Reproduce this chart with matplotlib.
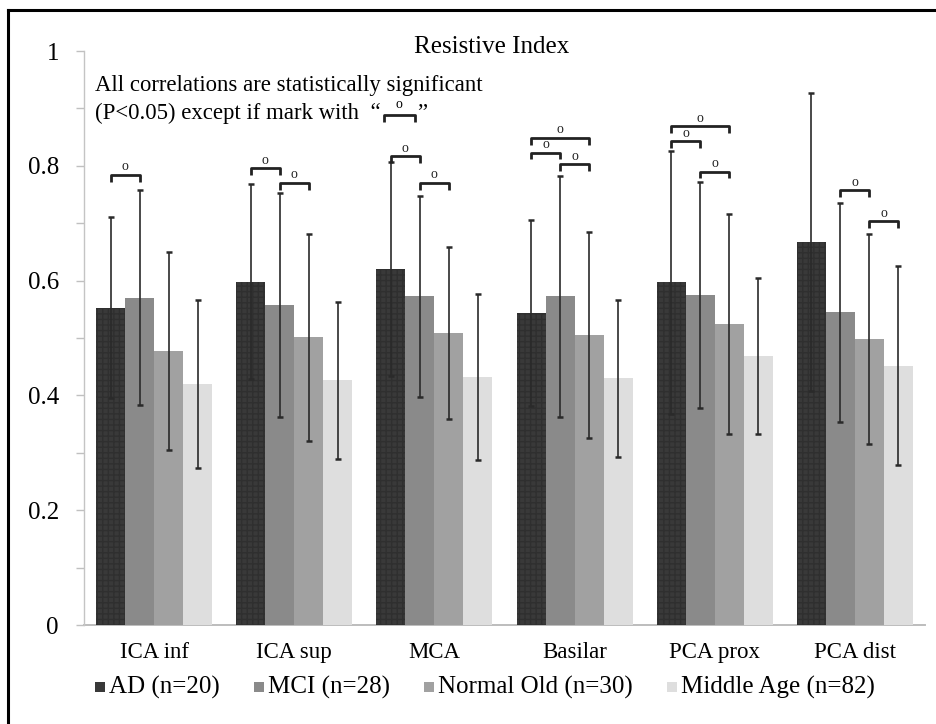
import matplotlib
matplotlib.use("Agg")
import matplotlib.pyplot as plt
from matplotlib.lines import Line2D
from matplotlib.patches import Rectangle
import numpy as np

plt.rcParams['font.family'] = ['Liberation Serif', 'DejaVu Serif']

# ---------------- data ----------------
categories = ["ICA inf", "ICA sup", "MCA", "Basilar", "PCA prox", "PCA dist"]
series_names = ["AD (n=20)", "MCI (n=28)", "Normal Old (n=30)", "Middle Age (n=82)"]

ad_mean = [0.553, 0.598, 0.620, 0.543, 0.597, 0.667]
mci_mean = [0.570, 0.558, 0.573, 0.573, 0.575, 0.545]
no_mean = [0.477, 0.501, 0.509, 0.505, 0.524, 0.499]
ma_mean = [0.420, 0.426, 0.432, 0.430, 0.469, 0.452]

ad_sd = [0.157, 0.170, 0.187, 0.162, 0.229, 0.260]
mci_sd = [0.187, 0.195, 0.175, 0.210, 0.197, 0.191]
no_sd = [0.172, 0.181, 0.150, 0.180, 0.192, 0.183]
ma_sd = [0.146, 0.137, 0.144, 0.137, 0.136, 0.174]

# non-significant pairs: (category index, series a, series b, bracket height)
ns_cat = [0, 1, 1, 2, 2, 3, 3, 3, 4, 4, 4, 5, 5]
ns_a = [0, 0, 1, 0, 1, 0, 0, 1, 0, 0, 1, 1, 2]
ns_b = [1, 1, 2, 1, 2, 2, 1, 2, 2, 1, 2, 2, 3]
ns_level = [0.784, 0.796, 0.770, 0.817, 0.770, 0.849, 0.823, 0.803,
            0.869, 0.843, 0.790, 0.757, 0.703]

yticks = [0, 0.2, 0.4, 0.6, 0.8, 1]
yticklabels = ["0", "0.2", "0.4", "0.6", "0.8", "1"]

means = [ad_mean, mci_mean, no_mean, ma_mean]
sds = [ad_sd, mci_sd, no_sd, ma_sd]
colors = ["#393939", "#8a8a8a", "#a1a1a1", "#dedede"]
hatch_colors = ["#2f2f2f", "#828282", "#9a9a9a", "#d6d6d6"]
hatches = ["+++", None, None, None]

W, H = 937, 724
fig = plt.figure(figsize=(W / 100, H / 100), dpi=100)
ax = fig.add_axes([84 / W, (H - 625) / H, (925 - 84) / W, (625 - 51) / H])

x = np.arange(len(categories))
w = 0.207
for j in range(4):
    xs = x + (j - 1.5) * w
    ax.bar(xs, means[j], width=w, color=colors[j], edgecolor=hatch_colors[j],
           linewidth=0, hatch=hatches[j], zorder=2)
    ax.errorbar(xs, means[j], yerr=sds[j], fmt='none', ecolor='#2a2a2a',
                elinewidth=1.2, capsize=2, capthick=1.8, zorder=3)

# brackets for non-significant comparisons
for c, a, b, lv in zip(ns_cat, ns_a, ns_b, ns_level):
    x1 = c + (a - 1.5) * w
    x2 = c + (b - 1.5) * w
    ax.plot([x1, x1, x2, x2], [lv - 0.012, lv, lv, lv - 0.012], color='#222222',
            lw=2.0, solid_capstyle='butt', zorder=4)
    ax.text((x1 + x2) / 2, lv + 0.014, "o", ha='center', va='center',
            fontsize=10, color='#222222', zorder=4)

ax.set_xlim(-0.5, 5.5)
ax.set_ylim(0, 1)
ax.set_yticks(yticks)
ax.set_yticklabels(yticklabels, fontsize=18)
ax.set_yticks([0.1, 0.3, 0.5, 0.7, 0.9], minor=True)
ax.set_xticks(x)
ax.set_xticklabels(categories, fontsize=16.5)
ax.tick_params(axis='y', which='both', length=6, width=1, color='#c0c0c0',
               direction='out', pad=12)
ax.tick_params(axis='x', length=0, pad=12)
for s in ['top', 'right']:
    ax.spines[s].set_visible(False)
ax.spines['left'].set_color('#c4c4c4')
ax.spines['left'].set_linewidth(1.0)
ax.spines['bottom'].set_color('#bdbdbd')
ax.spines['bottom'].set_linewidth(1.4)
ax.spines['bottom'].set_zorder(1)

# title
fig.text(492 / W, 1 - 47 / H, "Resistive Index", ha='center', va='center', fontsize=18)

# note
fig.text(95 / W, 1 - 86 / H, "All correlations are statistically significant",
         ha='left', va='center', fontsize=16.4)
t2 = fig.text(95 / W, 1 - 113 / H, "(P<0.05) except if mark with  \u201c",
              ha='left', va='center', fontsize=16.4)
fig.canvas.draw()
renderer = fig.canvas.get_renderer()
bb = t2.get_window_extent(renderer=renderer)
bx1 = bb.x1 + 3
bx2 = bx1 + 31
by = H - 115
fig.add_artist(Line2D([bx1 / W, bx1 / W, bx2 / W, bx2 / W],
                      [(by - 7) / H, by / H, by / H, (by - 7) / H],
                      color='#222222', lw=2.0, solid_capstyle='butt'))
fig.text((bx1 + bx2) / 2 / W, (by + 10) / H, "o", ha='center', va='center', fontsize=10)
fig.text((bx2 + 2) / W, 1 - 113 / H, "\u201d", ha='left', va='center', fontsize=16.4)

# legend (drawn manually, evenly spaced between x=95 and x=875)
leg_y = H - 687
sq = 10
tpad = 4
leg_texts = []
widths = []
for j in range(4):
    t = fig.text(0, leg_y / H, series_names[j], ha='left', va='center', fontsize=18)
    leg_texts.append(t)
fig.canvas.draw()
for t in leg_texts:
    widths.append(t.get_window_extent(renderer=renderer).width)
item_w = [sq + tpad + wd for wd in widths]
left, right = 95, 875
gap = (right - left - sum(item_w)) / 3
cx = left
for j in range(4):
    fig.add_artist(Rectangle((cx / W, (leg_y - sq / 2) / H), sq / W, sq / H,
                             transform=fig.transFigure, facecolor=colors[j],
                             edgecolor='none'))
    leg_texts[j].set_x((cx + sq + tpad) / W)
    cx += item_w[j] + gap

# frame lines (top and left)
fig.add_artist(Line2D([8.5 / W, 1], [1 - 9.5 / H, 1 - 9.5 / H], color='black', lw=2.2))
fig.add_artist(Line2D([8.5 / W, 8.5 / W], [0, 1 - 9.5 / H], color='black', lw=2.2))

fig.savefig("out.png", dpi=100)
